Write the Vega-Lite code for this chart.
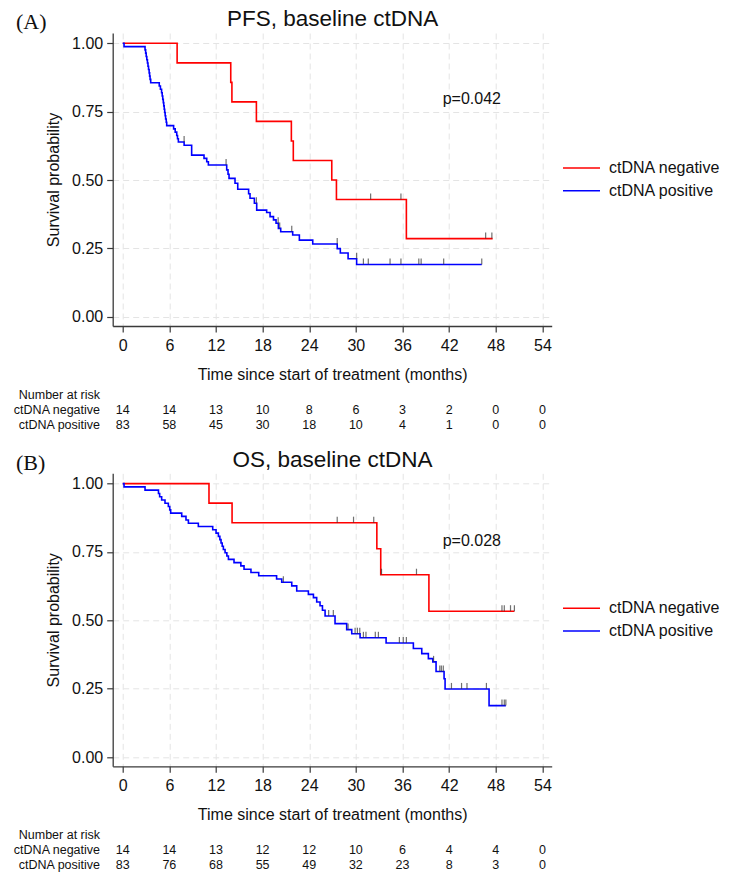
{
  "$schema": "https://vega.github.io/schema/vega-lite/v6.json",
  "autosize": "none",
  "padding": {"left": 112.7, "top": 33, "right": 619.3, "bottom": 840},
  "bounds": "flush",
  "spacing": 147.3,
  "config": {
    "font": "Liberation Sans",
    "view": {"stroke": null},
    "axis": {
      "grid": true, "gridColor": "#e4e4e4", "gridDash": [6, 4], "gridWidth": 1,
      "domainColor": "#3a3a3a", "domainWidth": 1.3,
      "tickColor": "#3a3a3a", "tickWidth": 1.2, "tickSize": 6,
      "labelFontSize": 16, "labelColor": "#111", "labelFlush": false, "labelOverlap": false,
      "titleFontSize": 16, "titleFontWeight": "normal", "titleColor": "#111"
    },
    "axisX": {"labelPadding": 5, "titlePadding": 13},
    "axisY": {"labelPadding": 4, "titlePadding": 10},
    "legend": {
      "symbolType": "stroke", "symbolSize": 1369, "symbolStrokeWidth": 1.6,
      "labelFontSize": 16, "labelColor": "#111", "labelOffset": 8,
      "clipHeight": 18, "rowPadding": 4.7, "padding": 0
    }
  },
  "datasets": {
    "pfs_curve": [
      {"group": "ctDNA negative", "time": 0, "surv": 1},
      {"group": "ctDNA negative", "time": 7.0, "surv": 0.9286},
      {"group": "ctDNA negative", "time": 13.9, "surv": 0.8571},
      {"group": "ctDNA negative", "time": 14.05, "surv": 0.7857},
      {"group": "ctDNA negative", "time": 17.2, "surv": 0.7143},
      {"group": "ctDNA negative", "time": 21.7, "surv": 0.6429},
      {"group": "ctDNA negative", "time": 21.95, "surv": 0.5714},
      {"group": "ctDNA negative", "time": 26.9, "surv": 0.5},
      {"group": "ctDNA negative", "time": 27.5, "surv": 0.4286},
      {"group": "ctDNA negative", "time": 36.5, "surv": 0.2857},
      {"group": "ctDNA negative", "time": 47.6, "surv": 0.2857},
      {"group": "ctDNA positive", "time": 0, "surv": 1},
      {"group": "ctDNA positive", "time": 0.17, "surv": 0.988},
      {"group": "ctDNA positive", "time": 2.87, "surv": 0.976},
      {"group": "ctDNA positive", "time": 2.95, "surv": 0.964},
      {"group": "ctDNA positive", "time": 3.02, "surv": 0.952},
      {"group": "ctDNA positive", "time": 3.1, "surv": 0.94},
      {"group": "ctDNA positive", "time": 3.18, "surv": 0.928},
      {"group": "ctDNA positive", "time": 3.25, "surv": 0.916},
      {"group": "ctDNA positive", "time": 3.32, "surv": 0.904},
      {"group": "ctDNA positive", "time": 3.4, "surv": 0.892},
      {"group": "ctDNA positive", "time": 3.46, "surv": 0.88},
      {"group": "ctDNA positive", "time": 3.52, "surv": 0.868},
      {"group": "ctDNA positive", "time": 3.6, "surv": 0.856},
      {"group": "ctDNA positive", "time": 4.7, "surv": 0.844},
      {"group": "ctDNA positive", "time": 4.85, "surv": 0.832},
      {"group": "ctDNA positive", "time": 5.0, "surv": 0.819},
      {"group": "ctDNA positive", "time": 5.08, "surv": 0.807},
      {"group": "ctDNA positive", "time": 5.15, "surv": 0.795},
      {"group": "ctDNA positive", "time": 5.22, "surv": 0.783},
      {"group": "ctDNA positive", "time": 5.28, "surv": 0.771},
      {"group": "ctDNA positive", "time": 5.34, "surv": 0.759},
      {"group": "ctDNA positive", "time": 5.4, "surv": 0.747},
      {"group": "ctDNA positive", "time": 5.46, "surv": 0.735},
      {"group": "ctDNA positive", "time": 5.52, "surv": 0.723},
      {"group": "ctDNA positive", "time": 5.6, "surv": 0.711},
      {"group": "ctDNA positive", "time": 5.66, "surv": 0.699},
      {"group": "ctDNA positive", "time": 6.55, "surv": 0.687},
      {"group": "ctDNA positive", "time": 6.75, "surv": 0.675},
      {"group": "ctDNA positive", "time": 6.95, "surv": 0.663},
      {"group": "ctDNA positive", "time": 7.05, "surv": 0.651},
      {"group": "ctDNA positive", "time": 7.16, "surv": 0.639},
      {"group": "ctDNA positive", "time": 7.9, "surv": 0.627},
      {"group": "ctDNA positive", "time": 8.87, "surv": 0.591},
      {"group": "ctDNA positive", "time": 10.46, "surv": 0.579},
      {"group": "ctDNA positive", "time": 10.81, "surv": 0.567},
      {"group": "ctDNA positive", "time": 11.02, "surv": 0.555},
      {"group": "ctDNA positive", "time": 13.38, "surv": 0.537},
      {"group": "ctDNA positive", "time": 13.55, "surv": 0.521},
      {"group": "ctDNA positive", "time": 13.68, "surv": 0.506},
      {"group": "ctDNA positive", "time": 14.45, "surv": 0.488},
      {"group": "ctDNA positive", "time": 14.8, "surv": 0.466},
      {"group": "ctDNA positive", "time": 16.2, "surv": 0.45},
      {"group": "ctDNA positive", "time": 16.38, "surv": 0.433},
      {"group": "ctDNA positive", "time": 16.94, "surv": 0.415},
      {"group": "ctDNA positive", "time": 17.24, "surv": 0.39},
      {"group": "ctDNA positive", "time": 18.52, "surv": 0.381},
      {"group": "ctDNA positive", "time": 18.96, "surv": 0.366},
      {"group": "ctDNA positive", "time": 19.4, "surv": 0.354},
      {"group": "ctDNA positive", "time": 19.73, "surv": 0.342},
      {"group": "ctDNA positive", "time": 20.03, "surv": 0.323},
      {"group": "ctDNA positive", "time": 20.33, "surv": 0.311},
      {"group": "ctDNA positive", "time": 21.87, "surv": 0.299},
      {"group": "ctDNA positive", "time": 22.73, "surv": 0.28},
      {"group": "ctDNA positive", "time": 24.45, "surv": 0.266},
      {"group": "ctDNA positive", "time": 27.6, "surv": 0.249},
      {"group": "ctDNA positive", "time": 28.0, "surv": 0.233},
      {"group": "ctDNA positive", "time": 29.0, "surv": 0.212},
      {"group": "ctDNA positive", "time": 30.1, "surv": 0.191},
      {"group": "ctDNA positive", "time": 46.2, "surv": 0.191}
    ],
    "pfs_censor": [
      {"group": "ctDNA negative", "time": 31.9, "surv": 0.4286},
      {"group": "ctDNA negative", "time": 35.8, "surv": 0.4286},
      {"group": "ctDNA negative", "time": 46.7, "surv": 0.2857},
      {"group": "ctDNA negative", "time": 47.5, "surv": 0.2857},
      {"group": "ctDNA positive", "time": 7.9, "surv": 0.639},
      {"group": "ctDNA positive", "time": 13.3, "surv": 0.555},
      {"group": "ctDNA positive", "time": 17.2, "surv": 0.415},
      {"group": "ctDNA positive", "time": 20.0, "surv": 0.342},
      {"group": "ctDNA positive", "time": 20.2, "surv": 0.323},
      {"group": "ctDNA positive", "time": 21.75, "surv": 0.311},
      {"group": "ctDNA positive", "time": 27.6, "surv": 0.266},
      {"group": "ctDNA positive", "time": 30.1, "surv": 0.212},
      {"group": "ctDNA positive", "time": 30.97, "surv": 0.191},
      {"group": "ctDNA positive", "time": 31.6, "surv": 0.191},
      {"group": "ctDNA positive", "time": 34.4, "surv": 0.191},
      {"group": "ctDNA positive", "time": 35.8, "surv": 0.191},
      {"group": "ctDNA positive", "time": 38.1, "surv": 0.191},
      {"group": "ctDNA positive", "time": 38.4, "surv": 0.191},
      {"group": "ctDNA positive", "time": 41.3, "surv": 0.191},
      {"group": "ctDNA positive", "time": 46.2, "surv": 0.191}
    ],
    "pfs_risk": [
      {"group": "ctDNA negative", "time": 0, "n": 14},
      {"group": "ctDNA negative", "time": 6, "n": 14},
      {"group": "ctDNA negative", "time": 12, "n": 13},
      {"group": "ctDNA negative", "time": 18, "n": 10},
      {"group": "ctDNA negative", "time": 24, "n": 8},
      {"group": "ctDNA negative", "time": 30, "n": 6},
      {"group": "ctDNA negative", "time": 36, "n": 3},
      {"group": "ctDNA negative", "time": 42, "n": 2},
      {"group": "ctDNA negative", "time": 48, "n": 0},
      {"group": "ctDNA negative", "time": 54, "n": 0},
      {"group": "ctDNA positive", "time": 0, "n": 83},
      {"group": "ctDNA positive", "time": 6, "n": 58},
      {"group": "ctDNA positive", "time": 12, "n": 45},
      {"group": "ctDNA positive", "time": 18, "n": 30},
      {"group": "ctDNA positive", "time": 24, "n": 18},
      {"group": "ctDNA positive", "time": 30, "n": 10},
      {"group": "ctDNA positive", "time": 36, "n": 4},
      {"group": "ctDNA positive", "time": 42, "n": 1},
      {"group": "ctDNA positive", "time": 48, "n": 0},
      {"group": "ctDNA positive", "time": 54, "n": 0}
    ],
    "os_curve": [
      {"group": "ctDNA negative", "time": 0, "surv": 1},
      {"group": "ctDNA negative", "time": 11.1, "surv": 0.9286},
      {"group": "ctDNA negative", "time": 14.07, "surv": 0.8571},
      {"group": "ctDNA negative", "time": 32.7, "surv": 0.7619},
      {"group": "ctDNA negative", "time": 33.2, "surv": 0.6667},
      {"group": "ctDNA negative", "time": 39.4, "surv": 0.5333},
      {"group": "ctDNA negative", "time": 50.4, "surv": 0.5333},
      {"group": "ctDNA positive", "time": 0, "surv": 1},
      {"group": "ctDNA positive", "time": 0.17, "surv": 0.988},
      {"group": "ctDNA positive", "time": 2.87, "surv": 0.976},
      {"group": "ctDNA positive", "time": 4.6, "surv": 0.964},
      {"group": "ctDNA positive", "time": 4.75, "surv": 0.952},
      {"group": "ctDNA positive", "time": 5.01, "surv": 0.94},
      {"group": "ctDNA positive", "time": 5.44, "surv": 0.928},
      {"group": "ctDNA positive", "time": 5.87, "surv": 0.916},
      {"group": "ctDNA positive", "time": 6.05, "surv": 0.904},
      {"group": "ctDNA positive", "time": 6.17, "surv": 0.892},
      {"group": "ctDNA positive", "time": 7.59, "surv": 0.88},
      {"group": "ctDNA positive", "time": 8.14, "surv": 0.867},
      {"group": "ctDNA positive", "time": 8.45, "surv": 0.855},
      {"group": "ctDNA positive", "time": 9.73, "surv": 0.843},
      {"group": "ctDNA positive", "time": 11.58, "surv": 0.831},
      {"group": "ctDNA positive", "time": 12.01, "surv": 0.819},
      {"group": "ctDNA positive", "time": 12.31, "surv": 0.807},
      {"group": "ctDNA positive", "time": 12.5, "surv": 0.795},
      {"group": "ctDNA positive", "time": 12.65, "surv": 0.783},
      {"group": "ctDNA positive", "time": 12.8, "surv": 0.771},
      {"group": "ctDNA positive", "time": 12.95, "surv": 0.759},
      {"group": "ctDNA positive", "time": 13.17, "surv": 0.747},
      {"group": "ctDNA positive", "time": 13.4, "surv": 0.735},
      {"group": "ctDNA positive", "time": 13.6, "surv": 0.723},
      {"group": "ctDNA positive", "time": 14.32, "surv": 0.711},
      {"group": "ctDNA positive", "time": 15.2, "surv": 0.699},
      {"group": "ctDNA positive", "time": 15.61, "surv": 0.687},
      {"group": "ctDNA positive", "time": 16.5, "surv": 0.675},
      {"group": "ctDNA positive", "time": 17.5, "surv": 0.663},
      {"group": "ctDNA positive", "time": 19.8, "surv": 0.651},
      {"group": "ctDNA positive", "time": 20.46, "surv": 0.639},
      {"group": "ctDNA positive", "time": 21.75, "surv": 0.626},
      {"group": "ctDNA positive", "time": 22.39, "surv": 0.607},
      {"group": "ctDNA positive", "time": 23.89, "surv": 0.595},
      {"group": "ctDNA positive", "time": 24.54, "surv": 0.583},
      {"group": "ctDNA positive", "time": 24.96, "surv": 0.567},
      {"group": "ctDNA positive", "time": 25.39, "surv": 0.553},
      {"group": "ctDNA positive", "time": 25.7, "surv": 0.537},
      {"group": "ctDNA positive", "time": 26.04, "surv": 0.516},
      {"group": "ctDNA positive", "time": 27.32, "surv": 0.488},
      {"group": "ctDNA positive", "time": 28.82, "surv": 0.466},
      {"group": "ctDNA positive", "time": 29.47, "surv": 0.451},
      {"group": "ctDNA positive", "time": 30.54, "surv": 0.436},
      {"group": "ctDNA positive", "time": 33.89, "surv": 0.417},
      {"group": "ctDNA positive", "time": 37.4, "surv": 0.397},
      {"group": "ctDNA positive", "time": 38.48, "surv": 0.378},
      {"group": "ctDNA positive", "time": 39.33, "surv": 0.36},
      {"group": "ctDNA positive", "time": 39.9, "surv": 0.348},
      {"group": "ctDNA positive", "time": 40.32, "surv": 0.313},
      {"group": "ctDNA positive", "time": 41.35, "surv": 0.286},
      {"group": "ctDNA positive", "time": 41.48, "surv": 0.249},
      {"group": "ctDNA positive", "time": 47.14, "surv": 0.188},
      {"group": "ctDNA positive", "time": 49.3, "surv": 0.188}
    ],
    "os_censor": [
      {"group": "ctDNA negative", "time": 27.6, "surv": 0.8571},
      {"group": "ctDNA negative", "time": 29.7, "surv": 0.8571},
      {"group": "ctDNA negative", "time": 32.3, "surv": 0.8571},
      {"group": "ctDNA negative", "time": 33.3, "surv": 0.6667},
      {"group": "ctDNA negative", "time": 37.8, "surv": 0.6667},
      {"group": "ctDNA negative", "time": 48.8, "surv": 0.5333},
      {"group": "ctDNA negative", "time": 49.1, "surv": 0.5333},
      {"group": "ctDNA negative", "time": 49.9, "surv": 0.5333},
      {"group": "ctDNA negative", "time": 50.4, "surv": 0.5333},
      {"group": "ctDNA positive", "time": 20.67, "surv": 0.639},
      {"group": "ctDNA positive", "time": 26.5, "surv": 0.516},
      {"group": "ctDNA positive", "time": 27.1, "surv": 0.516},
      {"group": "ctDNA positive", "time": 29.0, "surv": 0.466},
      {"group": "ctDNA positive", "time": 29.9, "surv": 0.451},
      {"group": "ctDNA positive", "time": 30.2, "surv": 0.451},
      {"group": "ctDNA positive", "time": 30.5, "surv": 0.451},
      {"group": "ctDNA positive", "time": 30.97, "surv": 0.436},
      {"group": "ctDNA positive", "time": 31.3, "surv": 0.436},
      {"group": "ctDNA positive", "time": 32.5, "surv": 0.436},
      {"group": "ctDNA positive", "time": 32.9, "surv": 0.436},
      {"group": "ctDNA positive", "time": 35.6, "surv": 0.417},
      {"group": "ctDNA positive", "time": 36.1, "surv": 0.417},
      {"group": "ctDNA positive", "time": 36.5, "surv": 0.417},
      {"group": "ctDNA positive", "time": 40.0, "surv": 0.348},
      {"group": "ctDNA positive", "time": 40.8, "surv": 0.313},
      {"group": "ctDNA positive", "time": 41.0, "surv": 0.313},
      {"group": "ctDNA positive", "time": 41.25, "surv": 0.313},
      {"group": "ctDNA positive", "time": 42.3, "surv": 0.249},
      {"group": "ctDNA positive", "time": 43.6, "surv": 0.249},
      {"group": "ctDNA positive", "time": 44.3, "surv": 0.249},
      {"group": "ctDNA positive", "time": 46.8, "surv": 0.249},
      {"group": "ctDNA positive", "time": 48.8, "surv": 0.188},
      {"group": "ctDNA positive", "time": 49.1, "surv": 0.188},
      {"group": "ctDNA positive", "time": 49.3, "surv": 0.188}
    ],
    "os_risk": [
      {"group": "ctDNA negative", "time": 0, "n": 14},
      {"group": "ctDNA negative", "time": 6, "n": 14},
      {"group": "ctDNA negative", "time": 12, "n": 13},
      {"group": "ctDNA negative", "time": 18, "n": 12},
      {"group": "ctDNA negative", "time": 24, "n": 12},
      {"group": "ctDNA negative", "time": 30, "n": 10},
      {"group": "ctDNA negative", "time": 36, "n": 6},
      {"group": "ctDNA negative", "time": 42, "n": 4},
      {"group": "ctDNA negative", "time": 48, "n": 4},
      {"group": "ctDNA negative", "time": 54, "n": 0},
      {"group": "ctDNA positive", "time": 0, "n": 83},
      {"group": "ctDNA positive", "time": 6, "n": 76},
      {"group": "ctDNA positive", "time": 12, "n": 68},
      {"group": "ctDNA positive", "time": 18, "n": 55},
      {"group": "ctDNA positive", "time": 24, "n": 49},
      {"group": "ctDNA positive", "time": 30, "n": 32},
      {"group": "ctDNA positive", "time": 36, "n": 23},
      {"group": "ctDNA positive", "time": 42, "n": 8},
      {"group": "ctDNA positive", "time": 48, "n": 3},
      {"group": "ctDNA positive", "time": 54, "n": 0}
    ]
  },
  "resolve": {"scale": {"color": "independent"}},
  "vconcat": [
    {
      "width": 439,
      "height": 293,
      "layer": [
        {
          "data": {"name": "pfs_curve"},
          "mark": {"type": "line", "interpolate": "step-after", "strokeWidth": 1.6},
          "encoding": {
            "x": {"field": "time", "type": "quantitative", "scale": {"domain": [-1.29, 55.2], "nice": false, "zero": false}, "axis": {"values": [0, 6, 12, 18, 24, 30, 36, 42, 48, 54], "title": "Time since start of treatment (months)"}},
            "y": {"field": "surv", "type": "quantitative", "scale": {"domain": [-0.034, 1.0377], "nice": false, "zero": false}, "axis": {"values": [0, 0.25, 0.5, 0.75, 1], "format": ".2f", "title": "Survival probability"}},
            "color": {"field": "group", "type": "nominal", "scale": {"domain": ["ctDNA negative", "ctDNA positive"], "range": ["#ff0000", "#0000ff"]}, "legend": {"title": null, "orient": "none", "legendX": 449.3, "legendY": 126}}
          }
        },
        {
          "data": {"name": "pfs_censor"},
          "mark": {"type": "tick", "orient": "vertical", "size": 6, "thickness": 1.2, "color": "#333", "yOffset": -3},
          "encoding": {"x": {"field": "time", "type": "quantitative"}, "y": {"field": "surv", "type": "quantitative"}}
        },
        {
          "data": {"values": [{}]},
          "mark": {"type": "text", "text": "PFS, baseline ctDNA", "fontSize": 22.5, "align": "center", "baseline": "middle", "fill": "#111"},
          "encoding": {"x": {"datum": 27.0}, "y": {"datum": 1.0881}}
        },
        {
          "data": {"values": [{}]},
          "mark": {"type": "text", "text": "p=0.042", "fontSize": 16, "align": "center", "baseline": "middle", "fill": "#111"},
          "encoding": {"x": {"datum": 44.92}, "y": {"datum": 0.797}}
        },
        {
          "data": {"values": [{}]},
          "mark": {"type": "text", "text": "(A)", "font": "Liberation Serif", "fontSize": 22, "align": "left", "baseline": "middle", "fill": "#111"},
          "encoding": {"x": {"datum": -13.73}, "y": {"datum": 1.0764}}
        },
        {
          "data": {"values": [{}]},
          "mark": {"type": "text", "text": "Number at risk", "fontSize": 12.5, "align": "right", "baseline": "middle", "fill": "#111"},
          "encoding": {"x": {"datum": -2.92}, "y": {"datum": -0.287}}
        },
        {
          "data": {"values": [{}]},
          "mark": {"type": "text", "text": "ctDNA negative", "fontSize": 12.5, "align": "right", "baseline": "middle", "fill": "#111"},
          "encoding": {"x": {"datum": -2.92}, "y": {"datum": -0.34}}
        },
        {
          "data": {"values": [{}]},
          "mark": {"type": "text", "text": "ctDNA positive", "fontSize": 12.5, "align": "right", "baseline": "middle", "fill": "#111"},
          "encoding": {"x": {"datum": -2.92}, "y": {"datum": -0.396}}
        },
        {
          "data": {"name": "pfs_risk"},
          "transform": [{"filter": "datum.group === 'ctDNA negative'"}],
          "mark": {"type": "text", "fontSize": 12.5, "align": "center", "baseline": "middle", "fill": "#111"},
          "encoding": {"x": {"field": "time", "type": "quantitative"}, "y": {"datum": -0.34}, "text": {"field": "n", "type": "quantitative"}}
        },
        {
          "data": {"name": "pfs_risk"},
          "transform": [{"filter": "datum.group === 'ctDNA positive'"}],
          "mark": {"type": "text", "fontSize": 12.5, "align": "center", "baseline": "middle", "fill": "#111"},
          "encoding": {"x": {"field": "time", "type": "quantitative"}, "y": {"datum": -0.396}, "text": {"field": "n", "type": "quantitative"}}
        }
      ]
    },
    {
      "width": 439,
      "height": 293,
      "layer": [
        {
          "data": {"name": "os_curve"},
          "mark": {"type": "line", "interpolate": "step-after", "strokeWidth": 1.6},
          "encoding": {
            "x": {"field": "time", "type": "quantitative", "scale": {"domain": [-1.29, 55.2], "nice": false, "zero": false}, "axis": {"values": [0, 6, 12, 18, 24, 30, 36, 42, 48, 54], "title": "Time since start of treatment (months)"}},
            "y": {"field": "surv", "type": "quantitative", "scale": {"domain": [-0.034, 1.0377], "nice": false, "zero": false}, "axis": {"values": [0, 0.25, 0.5, 0.75, 1], "format": ".2f", "title": "Survival probability"}},
            "color": {"field": "group", "type": "nominal", "scale": {"domain": ["ctDNA negative", "ctDNA positive"], "range": ["#ff0000", "#0000ff"]}, "legend": {"title": null, "orient": "none", "legendX": 449.3, "legendY": 126}}
          }
        },
        {
          "data": {"name": "os_censor"},
          "mark": {"type": "tick", "orient": "vertical", "size": 6, "thickness": 1.2, "color": "#333", "yOffset": -3},
          "encoding": {"x": {"field": "time", "type": "quantitative"}, "y": {"field": "surv", "type": "quantitative"}}
        },
        {
          "data": {"values": [{}]},
          "mark": {"type": "text", "text": "OS, baseline ctDNA", "fontSize": 22.5, "align": "center", "baseline": "middle", "fill": "#111"},
          "encoding": {"x": {"datum": 27.0}, "y": {"datum": 1.0881}}
        },
        {
          "data": {"values": [{}]},
          "mark": {"type": "text", "text": "p=0.028", "fontSize": 16, "align": "center", "baseline": "middle", "fill": "#111"},
          "encoding": {"x": {"datum": 44.92}, "y": {"datum": 0.79}}
        },
        {
          "data": {"values": [{}]},
          "mark": {"type": "text", "text": "(B)", "font": "Liberation Serif", "fontSize": 22, "align": "left", "baseline": "middle", "fill": "#111"},
          "encoding": {"x": {"datum": -13.73}, "y": {"datum": 1.0764}}
        },
        {
          "data": {"values": [{}]},
          "mark": {"type": "text", "text": "Number at risk", "fontSize": 12.5, "align": "right", "baseline": "middle", "fill": "#111"},
          "encoding": {"x": {"datum": -2.92}, "y": {"datum": -0.287}}
        },
        {
          "data": {"values": [{}]},
          "mark": {"type": "text", "text": "ctDNA negative", "fontSize": 12.5, "align": "right", "baseline": "middle", "fill": "#111"},
          "encoding": {"x": {"datum": -2.92}, "y": {"datum": -0.34}}
        },
        {
          "data": {"values": [{}]},
          "mark": {"type": "text", "text": "ctDNA positive", "fontSize": 12.5, "align": "right", "baseline": "middle", "fill": "#111"},
          "encoding": {"x": {"datum": -2.92}, "y": {"datum": -0.396}}
        },
        {
          "data": {"name": "os_risk"},
          "transform": [{"filter": "datum.group === 'ctDNA negative'"}],
          "mark": {"type": "text", "fontSize": 12.5, "align": "center", "baseline": "middle", "fill": "#111"},
          "encoding": {"x": {"field": "time", "type": "quantitative"}, "y": {"datum": -0.34}, "text": {"field": "n", "type": "quantitative"}}
        },
        {
          "data": {"name": "os_risk"},
          "transform": [{"filter": "datum.group === 'ctDNA positive'"}],
          "mark": {"type": "text", "fontSize": 12.5, "align": "center", "baseline": "middle", "fill": "#111"},
          "encoding": {"x": {"field": "time", "type": "quantitative"}, "y": {"datum": -0.396}, "text": {"field": "n", "type": "quantitative"}}
        }
      ]
    }
  ]
}
